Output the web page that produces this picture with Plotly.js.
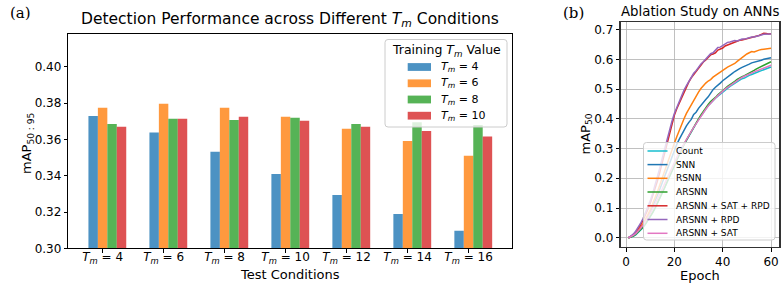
<!DOCTYPE html>
<html><head><meta charset="utf-8">
<script src="https://cdn.plot.ly/plotly-3.0.1.min.js"></script>
<style>html,body{margin:0;padding:0;background:#fff;}#c{width:782px;height:283px;}</style>
</head><body><div id="c"></div>
<script>
// ---- Panel (a) data ----
const testConditions = [4, 6, 8, 10, 12, 14, 16];
const trainTm4  = [0.373, 0.3638, 0.3532, 0.341, 0.3294, 0.3189, 0.3097];
const trainTm6  = [0.3775, 0.3797, 0.3775, 0.3725, 0.3659, 0.3592, 0.3511];
const trainTm8  = [0.3686, 0.3714, 0.3708, 0.372, 0.3686, 0.3695, 0.3680];
const trainTm10 = [0.367, 0.3714, 0.3725, 0.3703, 0.367, 0.3647, 0.3616];
const trainLabels = [4, 6, 8, 10];

// ---- Panel (b) data ----
const epochs = [1,2,3,4,5,6,7,8,9,10,11,12,13,14,15,16,17,18,19,20,21,22,23,24,25,26,27,28,29,30,
31,32,33,34,35,36,37,38,39,40,41,42,43,44,45,46,47,48,49,50,51,52,53,54,55,56,57,58,59,60];
const countMAP = [0.000,0.002,0.005,0.010,0.017,0.025,0.034,0.045,0.057,0.070,
0.084,0.099,0.115,0.132,0.150,0.168,0.187,0.206,0.225,0.244,
0.262,0.280,0.297,0.313,0.328,0.342,0.356,0.370,0.384,0.397,
0.410,0.422,0.433,0.444,0.453,0.461,0.469,0.476,0.483,0.490,
0.497,0.503,0.509,0.514,0.520,0.526,0.531,0.535,0.537,0.542,
0.546,0.549,0.553,0.556,0.559,0.562,0.565,0.568,0.571,0.574];
const snnMAP = [0.000,0.003,0.007,0.013,0.021,0.031,0.042,0.055,0.070,0.086,
0.104,0.123,0.143,0.164,0.186,0.209,0.232,0.254,0.276,0.296,
0.314,0.331,0.347,0.362,0.376,0.388,0.398,0.415,0.422,0.435,
0.446,0.454,0.465,0.474,0.487,0.498,0.506,0.512,0.520,0.528,
0.535,0.541,0.548,0.553,0.559,0.565,0.569,0.573,0.576,0.580,
0.584,0.588,0.590,0.591,0.594,0.597,0.600,0.601,0.603,0.605];
const rsnnMAP = [0.000,0.003,0.008,0.015,0.024,0.035,0.047,0.061,0.077,0.094,
0.113,0.133,0.155,0.178,0.202,0.227,0.252,0.276,0.298,0.318,
0.340,0.362,0.381,0.400,0.418,0.433,0.450,0.462,0.478,0.490,
0.502,0.512,0.520,0.527,0.532,0.540,0.546,0.551,0.556,0.562,
0.567,0.574,0.578,0.582,0.586,0.593,0.600,0.606,0.611,0.618,
0.622,0.626,0.625,0.629,0.631,0.633,0.634,0.635,0.636,0.637];
const arsnnMAP = [0.000,0.002,0.006,0.011,0.018,0.026,0.035,0.046,0.058,0.071,
0.085,0.100,0.116,0.133,0.151,0.169,0.188,0.207,0.226,0.245,
0.263,0.281,0.298,0.314,0.329,0.343,0.357,0.372,0.385,0.400,
0.413,0.426,0.438,0.448,0.458,0.464,0.472,0.481,0.489,0.495,
0.502,0.509,0.514,0.520,0.526,0.533,0.538,0.542,0.545,0.549,
0.553,0.558,0.563,0.568,0.572,0.576,0.580,0.584,0.588,0.592];
const satRpdMAP = [0.000,0.004,0.010,0.019,0.030,0.043,0.058,0.075,0.094,0.115,
0.138,0.163,0.191,0.221,0.253,0.287,0.322,0.356,0.386,0.412,
0.434,0.452,0.474,0.493,0.508,0.524,0.538,0.549,0.561,0.571,
0.582,0.591,0.598,0.605,0.615,0.618,0.622,0.631,0.634,0.638,
0.645,0.648,0.652,0.656,0.658,0.661,0.664,0.665,0.667,0.669,
0.672,0.674,0.676,0.678,0.680,0.684,0.688,0.687,0.685,0.686];
const rpdMAP = [0.000,0.005,0.012,0.022,0.034,0.048,0.064,0.082,0.102,0.124,
0.148,0.175,0.204,0.236,0.268,0.300,0.334,0.366,0.392,0.418,
0.438,0.460,0.477,0.497,0.512,0.527,0.540,0.553,0.562,0.574,
0.584,0.592,0.601,0.610,0.619,0.622,0.633,0.640,0.641,0.647,
0.650,0.657,0.658,0.660,0.663,0.662,0.666,0.668,0.668,0.671,
0.673,0.675,0.675,0.678,0.679,0.682,0.684,0.685,0.684,0.685];
const satMAP = [0.000,0.003,0.008,0.014,0.022,0.031,0.042,0.054,0.067,0.081,
0.096,0.112,0.129,0.146,0.164,0.182,0.200,0.218,0.236,0.254,
0.271,0.287,0.302,0.317,0.331,0.345,0.358,0.371,0.384,0.396,
0.409,0.421,0.432,0.443,0.453,0.462,0.470,0.478,0.486,0.493,
0.500,0.506,0.512,0.518,0.524,0.530,0.535,0.539,0.543,0.547,
0.550,0.554,0.558,0.561,0.564,0.567,0.570,0.573,0.577,0.580];
const ablationNames = ['Count','SNN','RSNN','ARSNN','ARSNN + SAT + RPD','ARSNN + RPD','ARSNN + SAT'];

const FONT = 'DejaVu Sans, sans-serif';
const W = 782, H = 283;
const px = v => v / W, py = v => 1 - v / H;
const tm = '<i>T</i><sub><i>m</i></sub>';
const barW = 0.155;
const idx = testConditions.map((_, i) => i);
const barColors = ['#1f77b4','#ff7f0e','#2ca02c','#d62728'];
const barSeries = [trainTm4, trainTm6, trainTm8, trainTm10];

const traces = [];
barSeries.forEach((vals, k) => {
  traces.push({
    type: 'bar', x: idx, y: vals, name: tm + ' = ' + trainLabels[k],
    marker: {color: barColors[k], opacity: 0.8, line: {width: 0}},
    xaxis: 'x', yaxis: 'y', width: barW, offset: -2*barW + k*barW, showlegend: false
  });
});

const lineSeries = [countMAP, snnMAP, rsnnMAP, arsnnMAP, satRpdMAP, rpdMAP, satMAP];
const lineColors = ['#17becf','#1f77b4','#ff7f0e','#2ca02c','#d62728','#9467bd','#e377c2'];
lineSeries.forEach((vals, k) => {
  traces.push({
    type: 'scatter', mode: 'lines', x: epochs, y: vals, name: ablationNames[k],
    line: {color: lineColors[k], width: 1.5}, xaxis: 'x2', yaxis: 'y2', showlegend: false
  });
});

function roundBox(x0, y0, x1, y1, r) {
  const rx = r / W, ry = r / H;
  const X0 = px(x0), X1 = px(x1), Y0 = py(y0), Y1 = py(y1);
  return `M ${X0 + rx} ${Y0} L ${X1 - rx} ${Y0} Q ${X1} ${Y0} ${X1} ${Y0 - ry} L ${X1} ${Y1 + ry} Q ${X1} ${Y1} ${X1 - rx} ${Y1} L ${X0 + rx} ${Y1} Q ${X0} ${Y1} ${X0} ${Y1 + ry} L ${X0} ${Y0 - ry} Q ${X0} ${Y0} ${X0 + rx} ${Y0} Z`;
}

const shapes = [];
const annotations = [];
const ann = (text, x, y, size, extra) => Object.assign({text, x: px(x), y: py(y), xref: 'paper', yref: 'paper',
  xanchor: 'center', yanchor: 'middle', showarrow: false, font: {size}}, extra || {});

// legend (a)
shapes.push({type: 'path', xref: 'paper', yref: 'paper', path: roundBox(385, 39.5, 507, 127, 3),
  fillcolor: 'rgba(255,255,255,0.8)', line: {color: '#cccccc', width: 1}, layer: 'above'});
annotations.push(ann('Training ' + tm + ' Value', 446, 50, 12.5));
const legAy = [67, 83.3, 99.5, 115.7];
trainLabels.forEach((t, k) => {
  shapes.push({type: 'rect', xref: 'paper', yref: 'paper', x0: px(407.7), x1: px(431), y0: py(legAy[k] + 3.9), y1: py(legAy[k] - 3.9),
    fillcolor: barColors[k], opacity: 0.8, line: {width: 0}, layer: 'above'});
  annotations.push(ann(tm + ' = ' + t, 439, legAy[k], 11, {xanchor: 'left'}));
});

// legend (b)
shapes.push({type: 'path', xref: 'paper', yref: 'paper', path: roundBox(643.5, 142.5, 775, 240, 3),
  fillcolor: 'rgba(255,255,255,0.8)', line: {color: '#cccccc', width: 1}, layer: 'above'});
const legBy = [151, 164.6, 178.3, 192, 205.8, 219.5, 233.3];
ablationNames.forEach((n, k) => {
  shapes.push({type: 'line', xref: 'paper', yref: 'paper', x0: px(647.5), x1: px(667.5), y0: py(legBy[k]), y1: py(legBy[k]),
    line: {color: lineColors[k], width: 1.5}, layer: 'above'});
  annotations.push(ann(n, 673.5, legBy[k], 9, {xanchor: 'left'}));
});

// titles and axis titles
annotations.push(
  ann('Detection Performance across Different ' + tm + ' Conditions', 290, 20, 15.5),
  ann('Ablation Study on ANNs', 700, 11, 13.3),
  ann('Test Conditions', 290, 274, 13),
  ann('Epoch', 700, 275, 13),
  ann('mAP<sub>50 : 95</sub>', 27, 143, 13, {textangle: -90}),
  ann('mAP<sub>50</sub>', 585.5, 134, 13, {textangle: -90}),
  ann('(a)', 8, 13, 15, {xanchor: 'left', font: {family: 'DejaVu Serif, Liberation Serif, serif', size: 15}}),
  ann('(b)', 561, 13, 15, {xanchor: 'left', font: {family: 'DejaVu Serif, Liberation Serif, serif', size: 15}})
);

const layout = {
  width: W, height: H, margin: {l: 0, r: 0, t: 0, b: 0},
  paper_bgcolor: '#fff', plot_bgcolor: '#fff',
  font: {family: FONT, size: 12, color: '#000'},
  showlegend: false,
  xaxis: {
    domain: [px(68.3), px(512.3)], range: [-0.64, 6.64],
    tickmode: 'array', tickvals: idx.map(i => i - barW/2),
    ticktext: testConditions.map(t => tm + ' = ' + t),
    ticks: 'outside', ticklen: 3.5, tickcolor: '#000', showline: true, mirror: true,
    linecolor: '#000', linewidth: 1, showgrid: false, zeroline: false,
    tickfont: {size: 12}, ticklabelstandoff: -6, anchor: 'y', automargin: false
  },
  yaxis: {
    domain: [1 - 248.3/H, 1 - 34.3/H], range: [0.30, 0.418],
    tickmode: 'array', tickvals: [0.30, 0.32, 0.34, 0.36, 0.38, 0.40],
    ticktext: ['0.30','0.32','0.34','0.36','0.38','0.40'],
    ticks: 'outside', ticklen: 3.5, tickcolor: '#000', showline: true, mirror: true,
    linecolor: '#000', linewidth: 1, showgrid: false, zeroline: false,
    tickfont: {size: 12}, anchor: 'x', automargin: false
  },
  xaxis2: {
    domain: [px(620.7), px(779)], range: [-2.2, 63.3],
    tickvals: [0, 20, 40, 60], ticks: 'outside', ticklen: 3.5, tickcolor: '#000',
    showline: true, mirror: true, linecolor: '#333', linewidth: 1.5,
    showgrid: true, gridcolor: '#b0b0b0', gridwidth: 0.8, zeroline: false,
    tickfont: {size: 12}, anchor: 'y2', automargin: false
  },
  yaxis2: {
    domain: [1 - 246.7/H, 1 - 22.3/H], range: [-0.03, 0.7245],
    tickvals: [0, 0.1, 0.2, 0.3, 0.4, 0.5, 0.6, 0.7],
    ticktext: ['0.0','0.1','0.2','0.3','0.4','0.5','0.6','0.7'],
    ticks: 'outside', ticklen: 3.5, tickcolor: '#000',
    showline: true, mirror: true, linecolor: '#333', linewidth: 1.5,
    showgrid: true, gridcolor: '#b0b0b0', gridwidth: 0.8, zeroline: false,
    tickfont: {size: 12}, anchor: 'x2', automargin: false
  },
  shapes: shapes,
  annotations: annotations
};

Plotly.newPlot('c', traces, layout, {staticPlot: true, displayModeBar: false});
</script></body></html>
